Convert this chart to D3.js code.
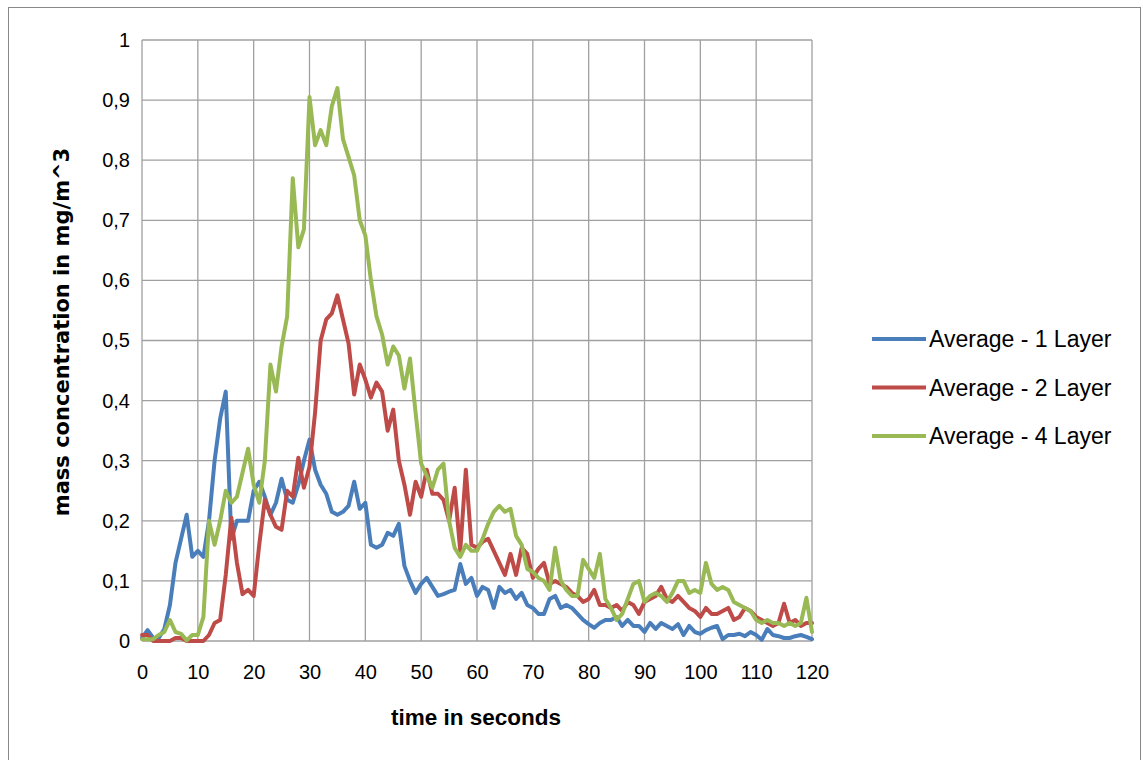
<!DOCTYPE html>
<html><head><meta charset="utf-8">
<script src="https://cdn.jsdelivr.net/npm/d3@7"></script>
<style>body{margin:0;background:#fff}svg{display:block}</style>
</head><body>
<svg id="c" width="1143" height="760"></svg>
<script>
const seriesNames = ["Average - 1 Layer", "Average - 2 Layer", "Average - 4 Layer"];
const seriesColors = ["#4a7ebb", "#be4b48", "#98b954"];
const yTickLabels = ["0","0,1","0,2","0,3","0,4","0,5","0,6","0,7","0,8","0,9","1"];
const xTickValues = [0,10,20,30,40,50,60,70,80,90,100,110,120];
const layer1 = [0.005,0.018,0.005,0.005,0.02,0.06,0.13,0.17,0.21,0.14,0.15,0.14,0.2,0.3,0.37,0.415,0.17,0.2,0.2,0.2,0.25,0.265,0.24,0.21,0.23,0.27,0.235,0.23,0.26,0.3,0.335,0.285,0.26,0.245,0.215,0.21,0.215,0.225,0.265,0.22,0.23,0.16,0.155,0.16,0.18,0.175,0.195,0.125,0.1,0.08,0.095,0.105,0.09,0.075,0.078,0.082,0.085,0.128,0.095,0.105,0.075,0.09,0.085,0.055,0.09,0.08,0.085,0.07,0.08,0.06,0.055,0.045,0.045,0.07,0.075,0.055,0.06,0.055,0.045,0.035,0.028,0.022,0.03,0.035,0.035,0.04,0.025,0.035,0.025,0.025,0.015,0.03,0.02,0.03,0.025,0.02,0.028,0.01,0.025,0.015,0.012,0.018,0.022,0.025,0.003,0.01,0.01,0.012,0.008,0.015,0.01,0.002,0.02,0.01,0.008,0.005,0.005,0.008,0.01,0.007,0.003];
const layer2 = [0.01,0.01,0,0,0,0,0.005,0.005,0,0,0,0,0.01,0.03,0.035,0.11,0.205,0.13,0.078,0.085,0.075,0.16,0.235,0.21,0.19,0.185,0.25,0.24,0.305,0.255,0.29,0.38,0.5,0.535,0.545,0.575,0.535,0.495,0.41,0.46,0.435,0.405,0.43,0.415,0.35,0.385,0.3,0.26,0.21,0.265,0.24,0.285,0.245,0.245,0.235,0.2,0.255,0.15,0.285,0.16,0.155,0.165,0.17,0.15,0.13,0.11,0.145,0.11,0.155,0.145,0.105,0.12,0.13,0.095,0.1,0.095,0.09,0.08,0.075,0.065,0.07,0.085,0.06,0.06,0.055,0.06,0.05,0.065,0.06,0.045,0.065,0.07,0.075,0.09,0.07,0.065,0.075,0.065,0.055,0.05,0.04,0.055,0.045,0.045,0.05,0.055,0.035,0.04,0.055,0.05,0.04,0.035,0.03,0.025,0.03,0.062,0.03,0.035,0.025,0.03,0.03];
const layer4 = [0.003,0.003,0.003,0.01,0.015,0.035,0.015,0.012,0.001,0.01,0.01,0.04,0.2,0.16,0.2,0.25,0.23,0.24,0.28,0.32,0.26,0.23,0.3,0.46,0.415,0.49,0.54,0.77,0.655,0.685,0.905,0.825,0.85,0.825,0.89,0.92,0.835,0.805,0.775,0.7,0.675,0.6,0.54,0.51,0.46,0.49,0.475,0.42,0.47,0.38,0.295,0.275,0.255,0.285,0.295,0.2,0.155,0.14,0.16,0.15,0.15,0.17,0.195,0.215,0.225,0.215,0.22,0.175,0.16,0.12,0.115,0.105,0.1,0.085,0.155,0.1,0.085,0.075,0.075,0.135,0.12,0.105,0.145,0.07,0.055,0.035,0.045,0.07,0.095,0.1,0.065,0.075,0.08,0.075,0.065,0.08,0.1,0.1,0.08,0.085,0.08,0.13,0.095,0.085,0.09,0.085,0.065,0.06,0.055,0.05,0.035,0.03,0.035,0.03,0.03,0.025,0.03,0.025,0.03,0.072,0.015];
const allSeries = [layer1, layer2, layer4];

const svg = d3.select("#c");
const font = "'Liberation Sans Narrow','Arial Narrow','Liberation Sans',sans-serif";
svg.append("rect").attr("x",8.5).attr("y",7.5).attr("width",1132).attr("height",760)
  .attr("fill","#fff").attr("stroke","#888").attr("stroke-width",1);

const L=142, R=812, T=40, B=641;
const x = d3.scaleLinear().domain([0,120]).range([L,R]);
const y = d3.scaleLinear().domain([0,1]).range([B,T]);

// gridlines
const g = svg.append("g");
g.selectAll("line.h").data(d3.range(0,11)).enter().append("line")
  .attr("x1",L).attr("x2",R).attr("y1",d=>y(d/10)).attr("y2",d=>y(d/10))
  .attr("stroke","#a0a0a0").attr("stroke-width",1.3);
g.selectAll("line.v").data(xTickValues).enter().append("line")
  .attr("y1",T).attr("y2",B).attr("x1",d=>x(d)).attr("x2",d=>x(d))
  .attr("stroke","#a0a0a0").attr("stroke-width",1.3);

// axes
const yAxis = d3.axisLeft(y).tickValues(d3.range(0,11).map(d=>d/10))
  .tickFormat((d,i)=>yTickLabels[i]).tickSize(0).tickPadding(12);
const ya = svg.append("g").attr("transform",`translate(${L},0)`).call(yAxis);
ya.select(".domain").remove();
ya.selectAll("text").attr("font-family",font).attr("font-size",20).attr("fill","#000");

const xAxis = d3.axisBottom(x).tickValues(xTickValues).tickSize(0).tickPadding(24);
const xa = svg.append("g").attr("transform",`translate(0,${B})`).call(xAxis);
xa.select(".domain").remove();
xa.selectAll("text").attr("font-family",font).attr("font-size",20).attr("fill","#000");

// lines
const line = d3.line().x((d,i)=>x(i)).y(d=>y(d));
allSeries.forEach((s,k)=>{
  svg.append("path").datum(s).attr("d",line).attr("fill","none")
    .attr("stroke",seriesColors[k]).attr("stroke-width",4)
    .attr("stroke-linejoin","round").attr("stroke-linecap","round");
});

// titles
svg.append("text").attr("x",476).attr("y",725).attr("text-anchor","middle")
  .attr("font-family",font).attr("font-weight","bold").attr("font-size",22.5).text("time in seconds");
svg.append("text").attr("transform","translate(69,332) rotate(-90)").attr("text-anchor","middle")
  .attr("font-family","'DejaVu Sans',sans-serif").attr("font-weight","bold").attr("font-size",21)
  .text("mass concentration in mg/m^3");

// legend
const lg = svg.append("g");
seriesNames.forEach((n,k)=>{
  const yy = 339 + k*48.5;
  lg.append("line").attr("x1",872).attr("x2",926).attr("y1",yy).attr("y2",yy)
    .attr("stroke",seriesColors[k]).attr("stroke-width",4);
  lg.append("text").attr("x",929).attr("y",yy+8).attr("font-family",font)
    .attr("font-size",23).attr("fill","#000").text(n);
});
</script>
</body></html>
